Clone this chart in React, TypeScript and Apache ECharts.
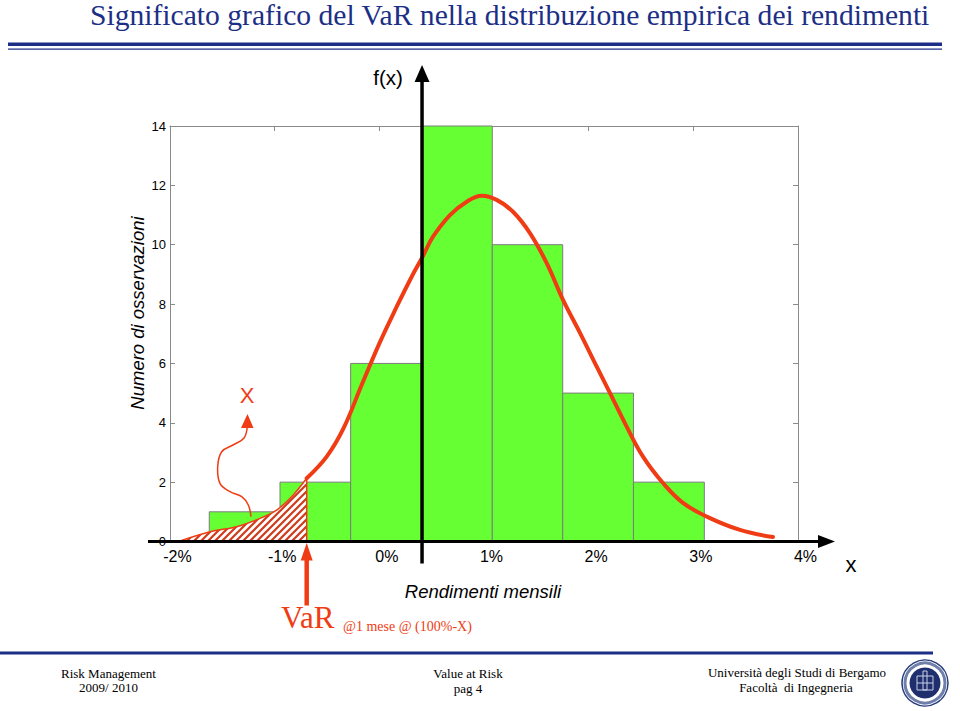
import React, { useEffect, useRef } from 'react';
import * as echarts from 'echarts';

// Histogram bins (x in %, counts)
const binEdges = [-1.625, -0.949, -0.274, 0.408, 1.079, 1.752, 2.428, 3.105];
const binCounts = [1, 2, 6, 14, 10, 5, 2];

// Fitted density curve (right of VaR, thick)
const curveX = [-0.694, -0.503, -0.344, -0.166, 0.006, 0.166, 0.309, 0.414, 0.513, 0.675, 0.835, 0.978, 1.121, 1.277, 1.439, 1.599, 1.755, 1.917, 2.077, 2.204, 2.363, 2.519, 2.71, 2.901, 3.128, 3.446, 3.761];
const curveY = [2.13, 2.86, 3.8, 5.3, 6.72, 7.91, 8.92, 9.6, 10.27, 11.0, 11.45, 11.65, 11.51, 11.11, 10.39, 9.38, 8.14, 7.03, 5.89, 5.0, 3.87, 2.86, 1.97, 1.3, 0.84, 0.39, 0.15];

// Left tail (hatched area, up to VaR)
const tailX = [-1.904, -1.618, -1.363, -1.14, -0.981, -0.822, -0.694];
const tailY = [0.02, 0.33, 0.5, 0.78, 1.06, 1.57, 2.13];
const varX = -0.694;

const xMin = -2, xMax = 4, xStep = 1;
const yMin = 0, yMax = 14, yStep = 2;

const title = 'Significato grafico del VaR nella distribuzione empirica dei rendimenti';
const yName = 'Numero di osservazioni';
const xName = 'Rendimenti mensili';

const RED = '#f03c14';
const NAVY = '#1c2f86';
const SANS = '"Liberation Sans", Arial, Helvetica, sans-serif';
const SERIF = '"Liberation Serif", "Times New Roman", serif';

function makeHatch() {
  const s = 7;
  const c = document.createElement('canvas');
  c.width = s; c.height = s;
  const g = c.getContext('2d')!;
  g.fillStyle = '#ffffff';
  g.fillRect(0, 0, s, s);
  g.strokeStyle = '#cf3b1c';
  g.lineWidth = 2.2;
  g.beginPath();
  g.moveTo(0, s); g.lineTo(s, 0);
  g.moveTo(-2, 2); g.lineTo(2, -2);
  g.moveTo(s - 2, s + 2); g.lineTo(s + 2, s - 2);
  g.stroke();
  return c;
}

export default function App() {
  const ref = useRef<HTMLDivElement>(null);
  useEffect(() => {
    document.body.style.margin = '0';
    const chart = echarts.init(ref.current!, null, { renderer: 'svg' });
    const axisGray = '#8a8a8a';
    const line = { show: true, onZero: false, lineStyle: { color: axisGray, width: 1 } };
    const tick = { show: true, inside: true, length: 5, lineStyle: { color: axisGray } };
    const option: any = {
      animation: false,
      backgroundColor: '#ffffff',
      grid: { left: 170, top: 126, width: 628, height: 415.5, containLabel: false },
      xAxis: [
        {
          type: 'value', min: xMin, max: xMax, interval: xStep, position: 'bottom',
          axisLine: line, axisTick: tick, splitLine: { show: false },
          axisLabel: {
            formatter: (v: number) => `${v}%`, fontSize: 16, color: '#000', fontFamily: SANS,
            margin: 7, padding: [0, 0, 0, 15],
          },
        },
        {
          type: 'value', min: xMin, max: xMax, interval: xStep, position: 'top',
          axisLine: line, axisTick: tick, splitLine: { show: false }, axisLabel: { show: false },
        },
      ],
      yAxis: [
        {
          type: 'value', min: yMin, max: yMax, interval: yStep, position: 'left',
          axisLine: line, axisTick: tick, splitLine: { show: false },
          axisLabel: { fontSize: 13, color: '#000', fontFamily: SANS, margin: 4 },
        },
        {
          type: 'value', min: yMin, max: yMax, interval: yStep, position: 'right',
          axisLine: line, axisTick: tick, splitLine: { show: false }, axisLabel: { show: false },
        },
      ],
      series: [
        {
          type: 'custom', xAxisIndex: 0, yAxisIndex: 0,
          data: binCounts.map((c, i) => [binEdges[i], binEdges[i + 1], c]),
          encode: { x: [0, 1], y: 2 },
          renderItem: (params: any, api: any) => {
            const p0 = api.coord([api.value(0), api.value(2)]);
            const p1 = api.coord([api.value(1), 0]);
            return {
              type: 'rect',
              shape: { x: p0[0], y: p0[1], width: p1[0] - p0[0], height: p1[1] - p0[1] },
              style: { fill: '#66ff33', stroke: '#7c7c7c', lineWidth: 1 },
            };
          },
          z: 1,
        },
        {
          type: 'line', xAxisIndex: 0, yAxisIndex: 0,
          data: [...tailX.map((x, i) => [x, tailY[i]]), [varX, 0]],
          showSymbol: false, symbol: 'none', smooth: 0.3,
          lineStyle: { color: RED, width: 1.5 },
          areaStyle: { color: { image: makeHatch(), repeat: 'repeat' }, opacity: 1 },
          z: 3,
        },
        {
          type: 'line', xAxisIndex: 0, yAxisIndex: 0,
          data: curveX.map((x, i) => [x, curveY[i]]),
          showSymbol: false, symbol: 'none', smooth: 0.4,
          lineStyle: { color: RED, width: 4, cap: 'round', join: 'round' },
          z: 4,
        },
      ],
    };
    chart.setOption(option);

    const px = (x: number, y: number) => chart.convertToPixel({ seriesIndex: 0 }, [x, y]) as number[];
    const o = px(xMin, 0);
    const e = px(xMax, 0);
    const topY = px(0, yMax)[1];
    const vx = px(binEdges[3], 0)[0];
    const varPx = px(varX, 0)[0];
    const y0 = o[1];

    const txt = (text: string, x: number, y: number, size: number, family: string, fill: string, extra: any = {}) => ({
      type: 'text', z: 100, x, y,
      style: {
        text, fill, fontSize: size, fontFamily: family,
        align: extra.align || 'center', verticalAlign: extra.va || 'middle',
        textAlign: extra.align || 'center', textVerticalAlign: extra.va || 'middle',
        fontStyle: extra.italic ? 'italic' : 'normal',
      },
      rotation: extra.rotation || 0,
    });

    const graphic: any[] = [
      // header
      txt(title, 90, 15, 29.6, SERIF, NAVY, { align: 'left' }),
      { type: 'rect', z: 100, shape: { x: 8, y: 42.5, width: 934, height: 3.5 }, style: { fill: NAVY } },
      { type: 'rect', z: 100, shape: { x: 8, y: 48.5, width: 934, height: 1.2 }, style: { fill: NAVY } },
      // horizontal axis arrow
      { type: 'line', z: 50, shape: { x1: o[0] - 22, y1: y0, x2: e[0] + 22, y2: y0 }, style: { stroke: '#000', lineWidth: 3 } },
      { type: 'polygon', z: 50, shape: { points: [[e[0] + 37, y0], [e[0] + 20, y0 - 6.5], [e[0] + 20, y0 + 6.5]] }, style: { fill: '#000' } },
      txt('x', e[0] + 53, y0 + 23, 22, SANS, '#000'),
      // vertical f(x) arrow
      { type: 'line', z: 50, shape: { x1: vx, y1: y0 + 22, x2: vx, y2: topY - 46 }, style: { stroke: '#000', lineWidth: 3.5 } },
      { type: 'polygon', z: 50, shape: { points: [[vx, topY - 61], [vx - 7.5, topY - 44], [vx + 7.5, topY - 44]] }, style: { fill: '#000' } },
      txt('f(x)', vx - 34, 77, 20.5, SANS, '#000'),
      // axis titles
      txt(yName, 137, 313, 18.5, SANS, '#000', { italic: true, rotation: Math.PI / 2 }),
      txt(xName, 483, 591, 18.5, SANS, '#000', { italic: true }),
      // X annotation
      txt('X', 247, 395, 22, SANS, RED),
      {
        type: 'polyline', z: 60,
        shape: {
          points: [[247.3, 426], [244, 438], [233, 445], [221.7, 451.7], [217.7, 466.7], [220, 483.3], [230, 491.7], [241.7, 496.7], [248.3, 505], [251, 516.7]],
          smooth: 0.4,
        },
        style: { stroke: RED, lineWidth: 1.5, fill: null },
      },
      { type: 'polygon', z: 60, shape: { points: [[247.5, 414], [241, 428], [253.5, 428]] }, style: { fill: RED } },
      // VaR arrow
      { type: 'line', z: 60, shape: { x1: varPx, y1: y0 + 16, x2: varPx, y2: y0 + 64 }, style: { stroke: RED, lineWidth: 4.5 } },
      { type: 'polygon', z: 60, shape: { points: [[varPx, y0 + 1.5], [varPx - 6, y0 + 19], [varPx + 6, y0 + 19]] }, style: { fill: RED } },
      txt('VaR', 281, 633, 31, SERIF, RED, { align: 'left', va: 'bottom' }),
      txt('@1 mese @ (100%-X)', 343, 633, 14, SERIF, RED, { align: 'left', va: 'bottom' }),
      // footer
      { type: 'rect', z: 100, shape: { x: 0, y: 651.5, width: 933, height: 3 }, style: { fill: NAVY } },
      txt('Risk Management', 108.5, 673, 13, SERIF, '#000'),
      txt('2009/ 2010', 108.5, 687.5, 13, SERIF, '#000'),
      txt('Value at Risk', 468, 673, 13, SERIF, '#000'),
      txt('pag 4', 468, 688, 13, SERIF, '#000'),
      txt('Università degli Studi di Bergamo', 797, 672, 13, SERIF, '#000'),
      txt('Facoltà  di Ingegneria', 796, 687, 13, SERIF, '#000'),
      // logo
      { type: 'circle', z: 100, shape: { cx: 925, cy: 683, r: 23 }, style: { fill: '#fff', stroke: '#2a3f7e', lineWidth: 1.5 } },
      { type: 'circle', z: 100, shape: { cx: 925, cy: 683, r: 20 }, style: { fill: 'none', stroke: '#6f7fa8', lineWidth: 3 } },
      { type: 'circle', z: 100, shape: { cx: 925, cy: 683, r: 15.5 }, style: { fill: '#1f2f6e' } },
      { type: 'rect', z: 101, shape: { x: 917, y: 676, width: 16, height: 14 }, style: { fill: 'none', stroke: '#c8d0e6', lineWidth: 1 } },
      { type: 'rect', z: 101, shape: { x: 923, y: 671, width: 4, height: 19 }, style: { fill: 'none', stroke: '#c8d0e6', lineWidth: 1 } },
      { type: 'line', z: 101, shape: { x1: 917, y1: 683, x2: 933, y2: 683 }, style: { stroke: '#c8d0e6', lineWidth: 1 } },
    ];
    chart.setOption({ graphic });

    return () => chart.dispose();
  }, []);
  return <div ref={ref} style={{ width: 960, height: 711 }} />;
}
